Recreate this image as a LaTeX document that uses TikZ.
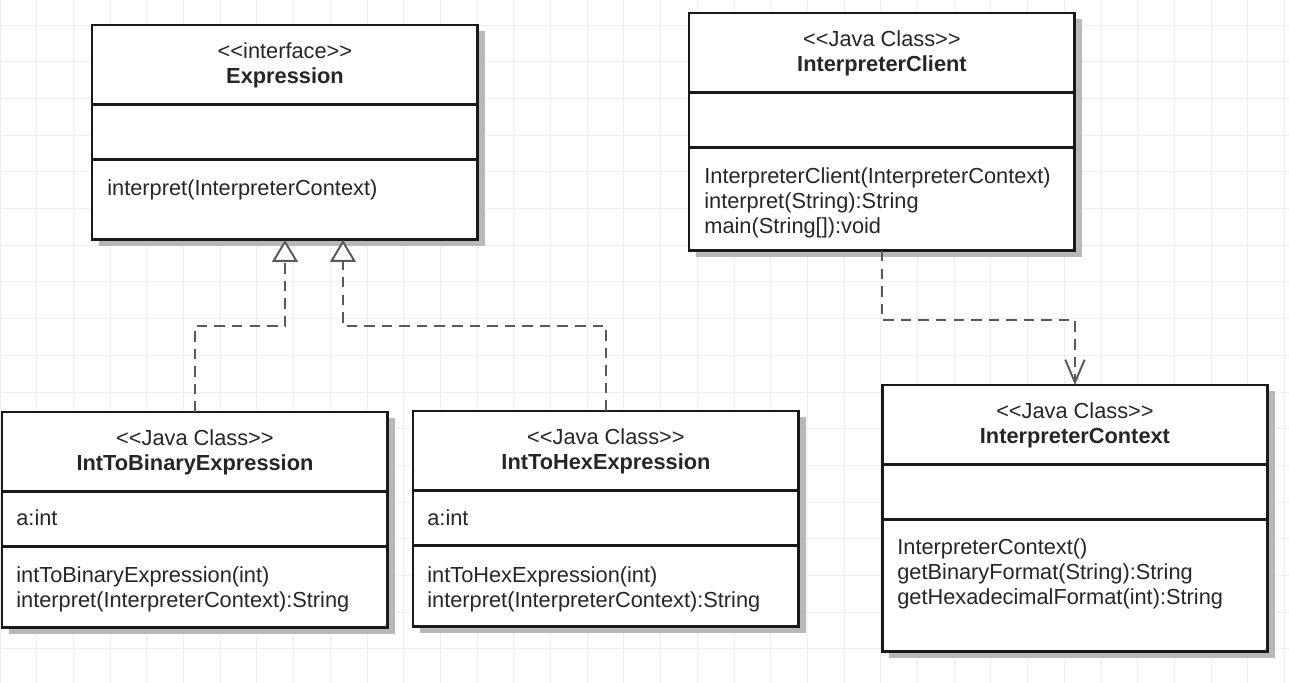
\documentclass[tikz,border=0pt]{standalone}
\usepackage{fontspec}
\setmainfont{Liberation Sans}
\usetikzlibrary{arrows.meta, shadows, positioning}
\definecolor{gridcol}{RGB}{238,238,244}
\newcommand\stereo[1]{<\kern0pt<#1>\kern0pt>}

\begin{document}
\begin{tikzpicture}[
		x=0.02cm, y=-0.02cm,
		every node/.style={font=\fontsize{12.4}{14.2}\selectfont, text=black!85},
		grid line/.style={draw=gridcol, line width=0.5pt},
		part/.style={draw=black!90, line width=1.7pt, fill=white, anchor=north west,
			minimum width=7.72cm, inner sep=0pt, outer sep=0pt,
			drop shadow={shadow xshift=4pt, shadow yshift=-3.4pt, fill=black!28, opacity=1}},
		head/.style={part, minimum height=1.6cm, align=center},
		attrs/.style={part, minimum height=1.1cm},
		member/.style={anchor=base west, inner sep=0pt},
		realize/.style={draw=black!65, line width=1.1pt, dash pattern=on 6pt off 4pt,
			-{Triangle[open, length=12.5pt, width=14.7pt, fill=white]}},
		depend/.style={draw=black!65, line width=1.1pt, dash pattern=on 6pt off 4pt,
			-{Straight Barb[length=13pt, width=11pt]}}
		]
	
	% Background
	\useasboundingbox (0,0) rectangle (1289,683);
	\fill[white] (0,0) rectangle (1289,683);
	\foreach \x in {0,36.7,...,1289}{
		\draw[grid line] (\x,0) -- (\x,683);
	}
	\foreach \y in {25,61.7,...,683}{
		\draw[grid line] (0,\y) -- (1289,\y);
	}
	
	% Expression
	\node[head] (exprhead) at (92,25) {\stereo{interface}\\\textbf{Expression}};
	\node[attrs] (exprattr) at (exprhead.south west) {};
	\node[part, minimum height=1.6cm] (exprops) at (exprattr.south west) {};
	\node[member] (exprop1) at (107,195) {interpret(InterpreterContext)};
	
	% InterpreterClient
	\node[head] (clienthead) at (689,13) {\stereo{Java Class}\\\textbf{InterpreterClient}};
	\node[attrs] (clientattr) at (clienthead.south west) {};
	\node[part, minimum height=2.06cm] (clientops) at (clientattr.south west) {};
	\node[member] (clientop1) at (704,183) {InterpreterClient(InterpreterContext)};
	\node[member] (clientop2) at (704,208) {interpret(String):String};
	\node[member] (clientop3) at (704,233) {main(String[]):void};
	
	% IntToBinaryExpression
	\node[head] (binhead) at (2,412) {\stereo{Java Class}\\\textbf{IntToBinaryExpression}};
	\node[attrs] (binattr) at (binhead.south west) {};
	\node[part, minimum height=1.62cm] (binops) at (binattr.south west) {};
	\node[member] (binat1) at (16,525) {a:int};
	\node[member] (binop1) at (16,582) {intToBinaryExpression(int)};
	\node[member] (binop2) at (16,607) {interpret(InterpreterContext):String};
	
	% IntToHexExpression
	\node[head] (hexhead) at (413,411) {\stereo{Java Class}\\\textbf{IntToHexExpression}};
	\node[attrs] (hexattr) at (hexhead.south west) {};
	\node[part, minimum height=1.62cm] (hexops) at (hexattr.south west) {};
	\node[member] (hexat1) at (427,525) {a:int};
	\node[member] (hexop1) at (427,582) {intToHexExpression(int)};
	\node[member] (hexop2) at (427,607) {interpret(InterpreterContext):String};
	
	% InterpreterContext
	\node[head] (ctxhead) at (882,385) {\stereo{Java Class}\\\textbf{InterpreterContext}};
	\node[attrs] (ctxattr) at (ctxhead.south west) {};
	\node[part, minimum height=2.64cm] (ctxops) at (ctxattr.south west) {};
	\node[member] (ctxop1) at (897,554) {InterpreterContext()};
	\node[member] (ctxop2) at (897,579) {getBinaryFormat(String):String};
	\node[member] (ctxop3) at (897,604) {getHexadecimalFormat(int):String};
	
	% Realizations
	\draw[realize] (binhead.north) -- ++(0,-86) -| (exprops.south);
	\draw[realize] (hexhead.north) -- ++(0,-85) -| ([xshift=1.16cm]exprops.south);
	
	% Dependency
	\draw[depend] (clientops.south) -- ++(0,69) -| (ctxhead.north);

\end{tikzpicture}
\end{document}
